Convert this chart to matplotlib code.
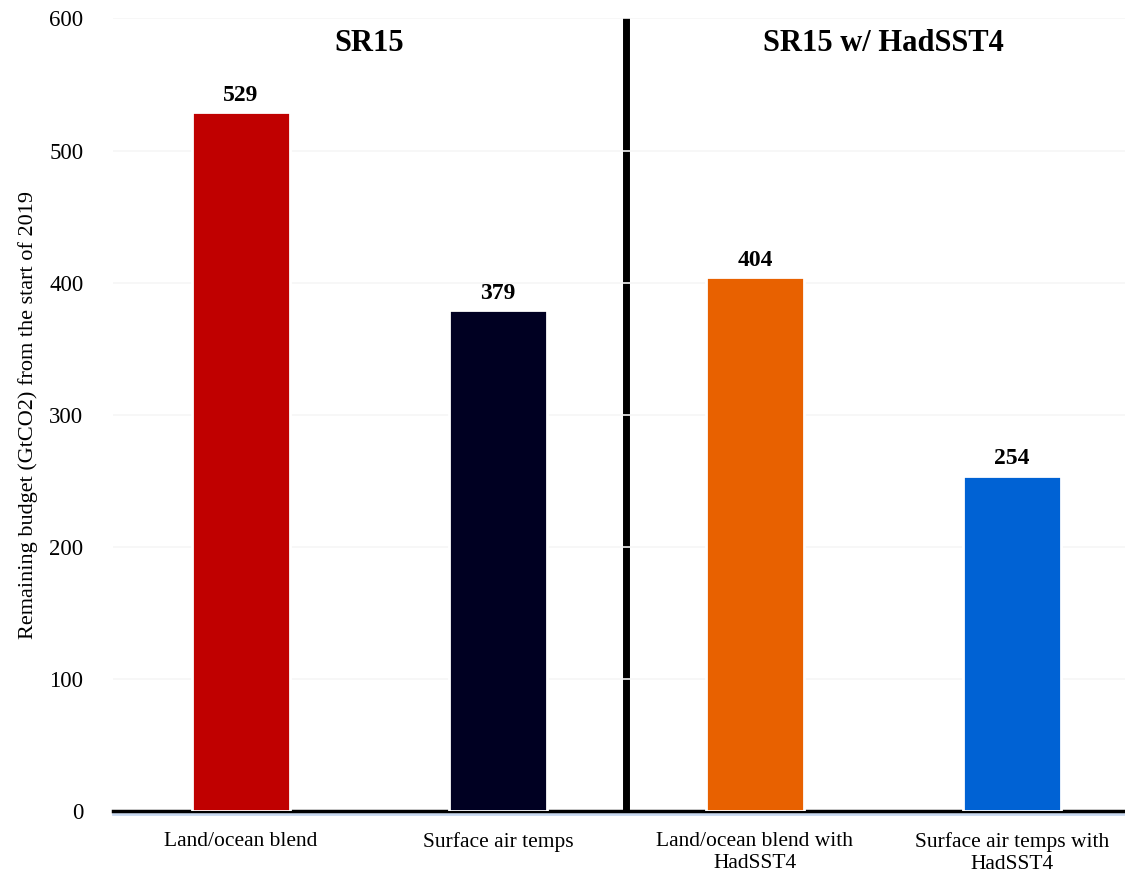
import matplotlib
matplotlib.use('Agg')
import matplotlib.pyplot as plt

categories = ['Land/ocean blend', 'Surface air temps',
              'Land/ocean blend with\nHadSST4', 'Surface air temps with\nHadSST4']
values = [529, 379, 404, 254]
colors = ['#c00000', '#000022', '#e86100', '#0062d4']
group_titles = ['SR15', 'SR15 w/ HadSST4']
yticks = [0, 100, 200, 300, 400, 500, 600]

plt.rcParams['font.family'] = ['Liberation Serif', 'DejaVu Serif']

fig = plt.figure(figsize=(11.25, 8.76), dpi=100)
ax = fig.add_axes([0.1, 0.074, 0.9, 0.905])

x = range(len(categories))
ax.bar(x, values, width=0.38, color=colors, edgecolor='white', linewidth=2, zorder=3)
for i, v in enumerate(values):
    ax.text(i, v + 5, str(v), ha='center', va='bottom', fontsize=17, fontweight='bold')

# divider between groups and base line
ax.axvline(1.5, color='black', lw=5, zorder=1)
ax.axhline(-2.5, color='#c8d8f0', lw=2, zorder=1, clip_on=False)
ax.axhline(0, color='black', lw=2.5, zorder=2, clip_on=False)

ax.text(0.5, 592, group_titles[0], ha='center', va='top', fontsize=22, fontweight='bold')
ax.text(2.5, 592, group_titles[1], ha='center', va='top', fontsize=22, fontweight='bold')

ax.set_xlim(-0.5, 3.44)
ax.set_ylim(0, 600)
ax.set_yticks(yticks)
ax.set_xticks(list(x))
ax.set_xticklabels(categories, fontsize=15.5)
ax.tick_params(axis='y', labelsize=16.5, length=0, pad=21)
ax.tick_params(axis='x', length=0, pad=15)
ax.set_ylabel('Remaining budget (GtCO2) from the start of 2019', fontsize=16, labelpad=8)
ax.grid(axis='y', color='#f6f6f6', lw=1.2, zorder=2)
for s in ax.spines.values():
    s.set_visible(False)

fig.savefig('out.png', dpi=100)
plt.close(fig)
